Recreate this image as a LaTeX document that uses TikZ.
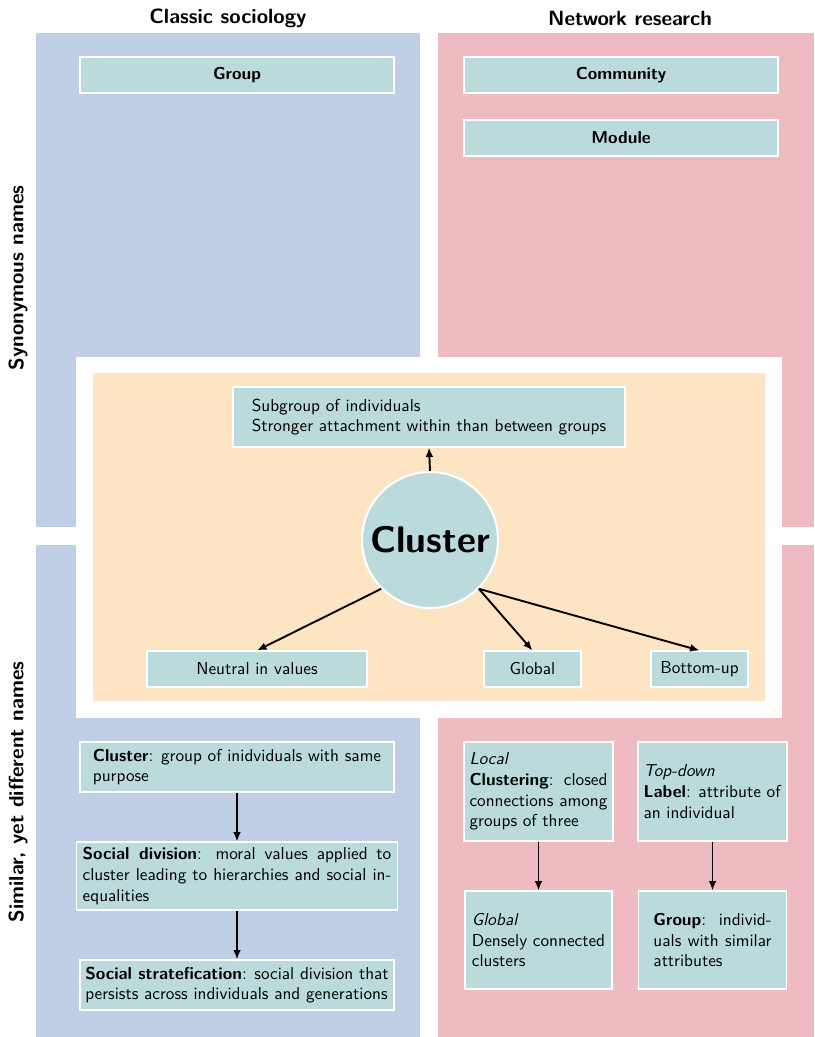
\documentclass[tikz,border=0pt]{standalone}
\usetikzlibrary{arrows.meta}
\renewcommand{\familydefault}{\sfdefault}
\definecolor{bluep}{RGB}{192,207,229}
\definecolor{pinkp}{RGB}{238,187,192}
\definecolor{orangep}{RGB}{253,229,196}
\definecolor{boxc}{RGB}{187,218,219}
\begin{document}
\begin{tikzpicture}[x=0.58pt,y=-0.58pt,
  box/.style={fill=boxc, draw=white, line width=0.6pt, inner sep=0pt, font=\sffamily},
  sz/.style 2 args={minimum width=#1*0.58pt, minimum height=#2*0.58pt},
  head/.style={font=\sffamily\bfseries\large},
  arr/.style={-{Latex[length=5.5pt,width=4.5pt]}, line width=1.1pt},
]
\useasboundingbox (0,0) rectangle (814,1037);
% panels
\fill[bluep] (36,33) rectangle (420,527);
\fill[bluep] (36,545) rectangle (420,1037);
\fill[pinkp] (438,33) rectangle (814,527);
\fill[pinkp] (438,545) rectangle (814,1037);
\fill[white] (76,357) rectangle (782,718);
\fill[orangep] (93,373) rectangle (765,701);
% headers
\node[head] (h1) at (228,18) {Classic sociology};
\node[head] (h2) at (630,18) {Network research};
\node[head, rotate=90] (s1) at (18,278) {Synonymous names};
\node[head, rotate=90] (s2) at (18,792) {Similar, yet different names};
% synonymous
\node[box, sz={314}{36}, font=\sffamily\bfseries] (grp) at (237,75) {Group};
\node[box, sz={314}{36}, font=\sffamily\bfseries] (com) at (621,75) {Community};
\node[box, sz={314}{36}, font=\sffamily\bfseries] (mod) at (621,138) {Module};
% central
\node[box, sz={392}{60}, align=left] (sub) at (429,417) {Subgroup of individuals\\Stronger attachment within than between groups};
\node[circle, fill=boxc, draw=white, line width=1.2pt, minimum size=78.88pt, inner sep=0pt, font=\sffamily\fontsize{21.5}{26}\selectfont\bfseries] (cl) at (430,540) {Cluster};
\node[box, sz={220}{36}] (neu) at (257,669) {Neutral in values};
\node[box, sz={97}{36}] (glo) at (532.5,669) {Global};
\node[box, sz={97}{36}] (bu) at (699.5,669) {Bottom-up};
% bottom left
\node[box, sz={314}{50}, align=left] (c1) at (237,767) {\textbf{Cluster}: group of inidviduals with same\\purpose};
\node[box, sz={321}{68}, text width=179pt, inner xsep=3.5pt, align=justify] (c2) at (237,876) {\textbf{Social division}: moral values applied to\linebreak cluster leading to hierarchies and social in-\linebreak equalities};
\node[box, sz={314}{50}, text width=176pt, inner xsep=3pt, align=justify] (c3) at (237,985) {\textbf{Social stratefication}: social division that\linebreak persists across individuals and generations};
% bottom right
\node[box, sz={149}{99}, text width=80pt, inner xsep=3.2pt, align=justify] (loc) at (538.5,791.5) {\textit{Local}\\\textbf{Clustering}: closed\linebreak connections among\linebreak groups of three};
\node[box, sz={149}{99}, text width=80pt, inner xsep=3.2pt, align=justify] (td) at (712.5,791.5) {\textit{Top-down}\\\textbf{Label}: attribute of\\an individual};
\node[box, sz={147}{98}, align=left] (gr) at (538.5,940) {\textit{Global}\\Densely connected\\clusters};
\node[box, sz={147}{98}, text width=68.5pt, inner xsep=8.4pt, align=justify] (gpr) at (712.5,940) {\textbf{Group}: individ-\linebreak uals with similar\linebreak attributes};
% arrows
\draw[arr] (cl.north) -- (sub.south);
\draw[arr] (cl.225) -- (neu.north);
\draw[arr] (cl.-45) -- (glo.north);
\draw[arr] (cl.-45) -- (bu.north);
\draw[arr] (c1.south) -- (c2.north);
\draw[arr] (c2.south) -- (c3.north);
\draw[arr] (loc.south) -- (gr.north);
\draw[arr] (td.south) -- (gpr.north);
\end{tikzpicture}
\end{document}
